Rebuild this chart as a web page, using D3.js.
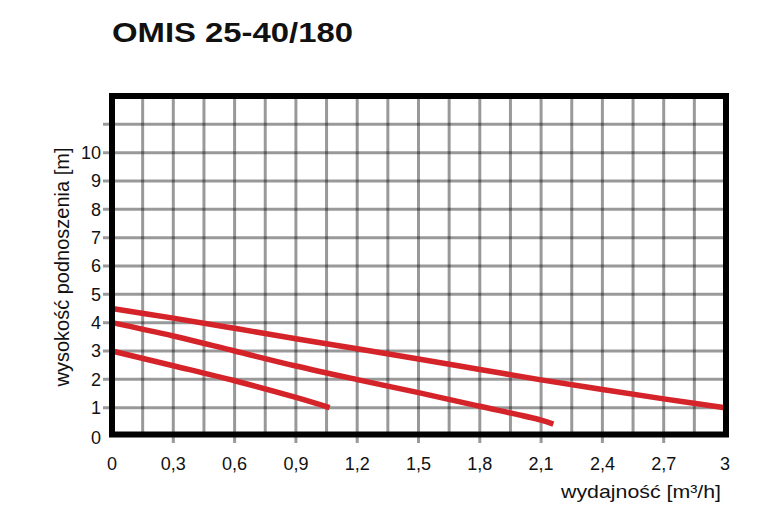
<!DOCTYPE html>
<html>
<head>
<meta charset="utf-8">
<script src="https://cdn.jsdelivr.net/npm/d3@7"></script>
<style>
  html, body { margin: 0; padding: 0; background: #fff; }
  svg text { font-family: Arial, "Liberation Sans", sans-serif; fill: #111; }
</style>
</head>
<body>
<svg id="chart" width="769" height="512"></svg>
<script>
// ---- data ----
const chartTitle = "OMIS 25-40/180";
const xTitle = "wydajność [m³/h]";
const yTitle = "wysokość podnoszenia [m]";
const xTickValues = [0, 0.3, 0.6, 0.9, 1.2, 1.5, 1.8, 2.1, 2.4, 2.7, 3];
const xTickLabels = ["0", "0,3", "0,6", "0,9", "1,2", "1,5", "1,8", "2,1", "2,4", "2,7", "3"];
const yTickValues = [0, 1, 2, 3, 4, 5, 6, 7, 8, 9, 10];
const xGridValues = [0.15, 0.3, 0.45, 0.6, 0.75, 0.9, 1.05, 1.2, 1.35, 1.5, 1.65, 1.8, 1.95, 2.1, 2.25, 2.4, 2.55, 2.7, 2.85];
const yGridValues = [1, 2, 3, 4, 5, 6, 7, 8, 9, 10, 11];

const speed3Q = [0, 0.3, 0.6, 0.9, 1.2, 1.5, 1.8, 2.1, 2.4, 2.7, 3.0];
const speed3H = [4.5, 4.16, 3.8, 3.43, 3.08, 2.72, 2.35, 1.98, 1.64, 1.31, 1.0];
const speed2Q = [0, 0.3, 0.6, 0.9, 1.2, 1.5, 1.8, 2.1, 2.16];
const speed2H = [4.0, 3.53, 3.0, 2.47, 1.99, 1.53, 1.05, 0.56, 0.42];
const speed1Q = [0, 0.3, 0.6, 0.9, 1.065];
const speed1H = [3.0, 2.48, 1.95, 1.36, 1.0];

// ---- layout ----
const svg = d3.select("#chart");
const x = d3.scaleLinear().domain([0, 3]).range([112, 725]);
const y = d3.scaleLinear().domain([0, 12]).range([436, 96]);

// grid
const grid = svg.append("g");
grid.selectAll("line.v").data(xGridValues).join("line")
  .attr("class", "v")
  .attr("x1", d => x(d)).attr("x2", d => x(d))
  .attr("y1", y(12)).attr("y2", d => (Math.round(d * 100) % 30 === 0) ? y(0) + 7 : y(0))
  .attr("stroke", "#000").attr("stroke-opacity", 0.4).attr("stroke-width", 3);
grid.selectAll("line.h").data(yGridValues).join("line")
  .attr("class", "h")
  .attr("x1", x(0) - 9).attr("x2", x(3))
  .attr("y1", d => y(d)).attr("y2", d => y(d))
  .attr("stroke", "#000").attr("stroke-opacity", 0.4).attr("stroke-width", 3);

// curves
const line = d3.line().x(d => x(d[0])).y(d => y(d[1])).curve(d3.curveCatmullRom);
const series = [
  d3.zip(speed3Q, speed3H),
  d3.zip(speed2Q, speed2H),
  d3.zip(speed1Q, speed1H)
];
svg.append("g").selectAll("path").data(series).join("path")
  .attr("d", line)
  .attr("fill", "none")
  .attr("stroke", "#d5232a")
  .attr("stroke-width", 5.5)
  .attr("stroke-linecap", "butt");

// frame
svg.append("rect")
  .attr("x", x(0)).attr("y", y(12))
  .attr("width", x(3) - x(0) + 1).attr("height", y(0) - y(12) - 1.5)
  .attr("fill", "none").attr("stroke", "#000").attr("stroke-width", 6);

// y tick labels
svg.append("g").selectAll("text").data(yTickValues).join("text")
  .attr("x", 101).attr("y", d => y(d) + (d === 0 ? 2 : 0))
  .attr("dy", "0.36em")
  .attr("text-anchor", "end")
  .attr("font-size", 18)
  .text(d => String(d));

// x tick labels
svg.append("g").selectAll("text").data(xTickValues).join("text")
  .attr("x", d => x(d)).attr("y", 470)
  .attr("text-anchor", "middle")
  .attr("font-size", 18)
  .text((d, i) => xTickLabels[i]);

// axis titles
svg.append("text")
  .attr("x", 721).attr("y", 498)
  .attr("text-anchor", "end")
  .attr("font-size", 19)
  .attr("textLength", 160).attr("lengthAdjust", "spacingAndGlyphs")
  .text(xTitle);

svg.append("text")
  .attr("transform", "translate(69,267) rotate(-90)")
  .attr("text-anchor", "middle")
  .attr("font-size", 20)
  .text(yTitle);

// title
svg.append("text")
  .attr("x", 112).attr("y", 42)
  .attr("font-size", 27)
  .attr("font-weight", "bold")
  .attr("textLength", 241).attr("lengthAdjust", "spacingAndGlyphs")
  .text(chartTitle);
</script>
</body>
</html>
